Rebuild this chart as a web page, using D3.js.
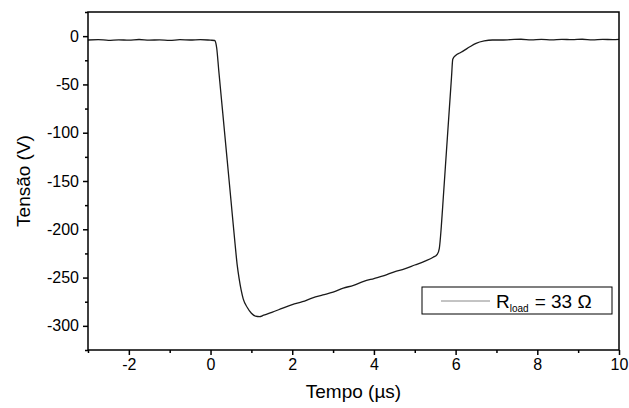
<!doctype html>
<html>
<head>
<script type='text/javascript' src='https://d3js.org/d3.v7.min.js'></script>
<style>
body { margin: 0; background: #fff; }
text { font-family: 'Liberation Sans', Arial, sans-serif; fill: #000; }
</style>
</head>
<body>
<script>
var width = 629, height = 408;
var margin = {top: 12, right: 10, bottom: 58, left: 88};

// waveform: time (us) and voltage (V)
var tempo = [-3, -2.75, -2.5, -2.25, -2, -1.75, -1.5, -1.25, -1, -0.75, -0.5, -0.25, 0, 0.1,
  0.15, 0.2, 0.3, 0.4, 0.5, 0.6, 0.65, 0.7, 0.75, 0.8, 0.9, 1.0, 1.1, 1.2,
  1.3, 1.5, 1.75, 2, 2.25, 2.5, 2.75, 3, 3.25, 3.5, 3.75, 4, 4.25, 4.5, 4.75, 5, 5.25, 5.45, 5.55,
  5.6, 5.65, 5.7, 5.75, 5.8, 5.85, 5.9, 5.93, 6.0, 6.1, 6.2, 6.35, 6.5, 6.7, 6.9, 7.1,
  7.35, 7.6, 7.85, 8.1, 8.35, 8.6, 8.85, 9.1, 9.35, 9.6, 9.85, 10];
var tensao = [-4, -3.6, -4.3, -3.8, -4.2, -3.5, -4.1, -3.9, -4.4, -3.7, -4.0, -3.6, -4.2, -4.5,
  -12, -35, -80, -125, -170, -215, -236, -251, -263, -272, -281, -287, -290, -290.5,
  -289, -286, -282, -278, -275, -271, -268, -265, -261, -258, -254, -251, -248, -244, -241, -237, -233, -229, -226,
  -220, -197, -166, -135, -104, -73, -42, -24, -20, -17.5, -15, -11, -7.5, -5, -4, -4,
  -3.6, -3.2, -3.8, -3.4, -3.9, -3.3, -3.7, -3.2, -3.8, -3.4, -3.6, -3.3];

var xTicks = [-2, 0, 2, 4, 6, 8, 10];
var xMinor = [-3, -1, 1, 3, 5, 7, 9];
var yTicks = [0, -50, -100, -150, -200, -250, -300];
var yMinor = [25, -25, -75, -125, -175, -225, -275, -325];

var svg = d3.select('body').append('svg').attr('width', width).attr('height', height);

var x = d3.scaleLinear().domain([-3, 10]).range([margin.left, width - margin.right]);
var y = d3.scaleLinear().domain([-325, 25]).range([height - margin.bottom, margin.top]);

var pts = tempo.map(function(t, i) { return [t, tensao[i]]; });

// curve
svg.append('path')
  .datum(pts)
  .attr('fill', 'none')
  .attr('stroke', '#1a1a1a')
  .attr('stroke-width', 1.3)
  .attr('d', d3.line().curve(d3.curveMonotoneX)
    .x(function(d) { return x(d[0]); }).y(function(d) { return y(d[1]); }));

// frame
svg.append('rect')
  .attr('x', x(-3)).attr('y', y(25))
  .attr('width', x(10) - x(-3)).attr('height', y(-325) - y(25))
  .attr('fill', 'none').attr('stroke', '#000').attr('stroke-width', 1.5);

// axes with major and minor ticks
var xAxis = svg.append('g').attr('transform', 'translate(0,' + y(-325) + ')');
xAxis.call(d3.axisBottom(x).tickValues(xTicks).tickSize(5).tickPadding(4).tickFormat(function(d) { return d; }));
xAxis.append('g').call(d3.axisBottom(x).tickValues(xMinor).tickSize(3).tickFormat(''));
var yAxis = svg.append('g').attr('transform', 'translate(' + x(-3) + ',0)');
yAxis.call(d3.axisLeft(y).tickValues(yTicks).tickSize(5).tickPadding(4).tickFormat(function(d) { return d; }));
yAxis.append('g').call(d3.axisLeft(y).tickValues(yMinor).tickSize(3).tickFormat(''));
svg.selectAll('.domain').remove();
svg.selectAll('.tick line').attr('stroke', '#000').attr('stroke-width', 1.5);
svg.selectAll('.tick text').style('font-family', "'Liberation Sans', Arial, sans-serif").style('font-size', '16px').attr('fill', '#000');

// titles
svg.append('text')
  .attr('x', (x(-3) + x(10)) / 2).attr('y', 398)
  .attr('text-anchor', 'middle').style('font-size', '19px')
  .text('Tempo (\u00b5s)');
svg.append('text')
  .attr('transform', 'translate(30,' + ((y(25) + y(-325)) / 2) + ') rotate(-90)')
  .attr('text-anchor', 'middle').style('font-size', '19px')
  .text('Tensão (V)');

// legend
var lg = svg.append('g');
lg.append('rect').attr('x', 422).attr('y', 287).attr('width', 190).attr('height', 27)
  .attr('fill', '#fff').attr('stroke', '#000').attr('stroke-width', 1);
lg.append('line').attr('x1', 441).attr('x2', 490).attr('y1', 301).attr('y2', 301)
  .attr('stroke', '#888').attr('stroke-width', 1);
var lt = lg.append('text').attr('x', 496).attr('y', 308).style('font-size', '19px');
lt.append('tspan').text('R');
lt.append('tspan').attr('dy', 4).style('font-size', '10px').text('load');
lt.append('tspan').attr('dy', -4).attr('dx', 6).text('= 33 \u03a9');
</script>
</body>
</html>
